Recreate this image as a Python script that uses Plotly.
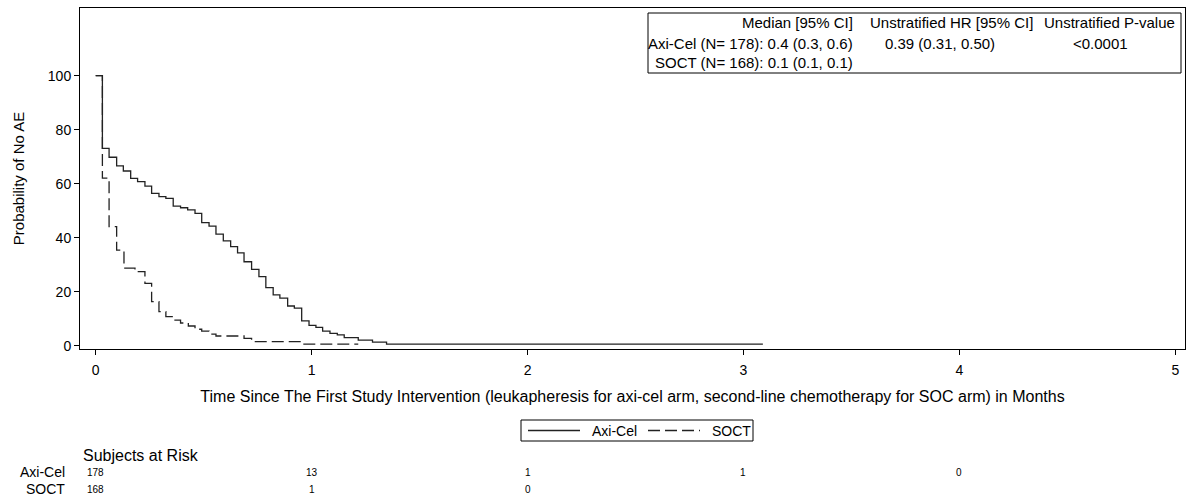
import plotly.graph_objects as go

# ---------------- data ----------------
axi_time = [0, 0.031, 0.062, 0.097, 0.128, 0.162, 0.194, 0.228, 0.259, 0.293, 0.325,
            0.359, 0.393, 0.426, 0.460, 0.491, 0.525, 0.557, 0.591, 0.625, 0.657,
            0.687, 0.722, 0.756, 0.788, 0.822, 0.853, 0.889, 0.920, 0.954, 0.988,
            1.020, 1.051, 1.085, 1.119, 1.151, 1.216, 1.282, 1.347, 3.09]
axi_surv = [100, 73.1, 69.8, 66.6, 64.7, 62.0, 60.8, 59.1, 56.4, 55.2, 54.6,
            51.7, 51.1, 50.3, 49.0, 45.6, 44.3, 41.3, 38.8, 36.7, 34.4,
            31.1, 28.3, 25.6, 21.5, 18.8, 17.6, 14.7, 13.9, 9.2, 7.5,
            6.8, 5.4, 4.6, 4.0, 3.0, 2.1, 1.3, 0.6, 0.6]

soc_time = [0, 0.031, 0.062, 0.097, 0.131, 0.182, 0.228, 0.259, 0.293, 0.325,
            0.359, 0.393, 0.429, 0.460, 0.491, 0.525, 0.557, 0.687, 0.722, 0.954, 1.216]
soc_surv = [100, 62.1, 44.1, 35.4, 28.7, 27.4, 23.1, 16.3, 12.6, 10.8,
            9.5, 8.4, 7.3, 6.1, 5.4, 4.3, 3.6, 2.7, 1.5, 0.6, 0.6]

series_names = ["Axi-Cel", "SOCT"]
x_ticks = [0, 1, 2, 3, 4, 5]
y_ticks = [0, 20, 40, 60, 80, 100]

stats_header = ["Median [95% CI]", "Unstratified HR [95% CI]", "Unstratified P-value"]
stats_axi = ["Axi-Cel (N= 178): 0.4 (0.3, 0.6)", "0.39 (0.31, 0.50)", "<0.0001"]
stats_soc = ["SOCT (N= 168): 0.1 (0.1, 0.1)", "", ""]

risk_title = "Subjects at Risk"
risk_times = [0, 1, 2, 3, 4]
risk_axi = [178, 13, 1, 1, 0]
risk_soc = [168, 1, 0]

x_title = ("Time Since The First Study Intervention (leukapheresis for axi-cel arm, "
           "second-line chemotherapy for SOC arm) in Months")
y_title = "Probability of No AE"

# ---------------- layout helpers ----------------
W, H = 1189, 500
ML, MR, MT, MB = 80, 4, 8, 151
PW, PH = W - ML - MR, H - MT - MB


def px(xp):
    return (xp - ML) / PW


def py(yp):
    return (H - MB - yp) / PH


FONT = "Arial, Liberation Sans, sans-serif"
LINE_COL = "#222222"
DASH = "12px,5px"

fig = go.Figure()
fig.add_trace(go.Scatter(x=axi_time, y=axi_surv, mode="lines", name=series_names[0],
                         line=dict(shape="hv", color=LINE_COL, width=1.3)))
fig.add_trace(go.Scatter(x=soc_time, y=soc_surv, mode="lines", name=series_names[1],
                         line=dict(shape="hv", color=LINE_COL, width=1.3, dash=DASH)))

axis_common = dict(showline=True, linecolor="black", linewidth=1, mirror=True,
                   ticks="outside", ticklen=5, tickcolor="black", tickwidth=1,
                   showgrid=False, zeroline=False,
                   tickfont=dict(family=FONT, size=14, color="black"))

fig.update_xaxes(range=[-0.0727, 5.045], tickvals=x_ticks, ticklabelstandoff=3,
                 title=dict(text=x_title, font=dict(family=FONT, size=16, color="black"), standoff=14),
                 **axis_common)
fig.update_yaxes(range=[-1.22, 125.07], tickvals=y_ticks,
                 title=dict(text=y_title, font=dict(family=FONT, size=15, color="black"), standoff=19),
                 **axis_common)

annotations = []
shapes = []

# statistics box
shapes.append(dict(type="rect", xref="paper", yref="paper",
                   x0=px(648), x1=px(1181), y0=py(73), y1=py(13),
                   line=dict(color="black", width=1), fillcolor="white", layer="above"))
row_y = [23, 43, 63]
col_specs = [[(855, "right"), (868, "left"), (1177, "right")],
             [(855, "right"), (940, "center"), (1100, "center")],
             [(855, "right"), (940, "center"), (1100, "center")]]
for ri, row in enumerate([stats_header, stats_axi, stats_soc]):
    for ci, txt in enumerate(row):
        if not txt:
            continue
        xpos, anchor = col_specs[ri][ci]
        annotations.append(dict(text=txt, xref="paper", yref="paper",
                                x=px(xpos), y=py(row_y[ri]), xanchor=anchor, yanchor="middle",
                                showarrow=False, font=dict(family=FONT, size=15, color="black")))

# custom legend
LEG_Y = 430.5
shapes.append(dict(type="rect", xref="paper", yref="paper",
                   x0=px(521), x1=px(753), y0=py(441), y1=py(420),
                   line=dict(color="black", width=1), fillcolor="white"))
shapes.append(dict(type="line", xref="paper", yref="paper", x0=px(528), x1=px(580),
                   y0=py(LEG_Y), y1=py(LEG_Y), line=dict(color=LINE_COL, width=1.3)))
shapes.append(dict(type="line", xref="paper", yref="paper", x0=px(648), x1=px(700),
                   y0=py(LEG_Y), y1=py(LEG_Y), line=dict(color=LINE_COL, width=1.3, dash=DASH)))
for name, xpos in zip(series_names, [590, 710]):
    annotations.append(dict(text=name, xref="paper", yref="paper", x=px(xpos), y=py(LEG_Y),
                            xanchor="left", yanchor="middle", showarrow=False,
                            font=dict(family=FONT, size=14, color="black")))

# at-risk table
annotations.append(dict(text=risk_title, xref="paper", yref="paper", x=px(81), y=py(455),
                        xanchor="left", yanchor="middle", showarrow=False,
                        font=dict(family=FONT, size=16, color="black")))
for name, counts, ypos in [(series_names[0], risk_axi, 472), (series_names[1], risk_soc, 489)]:
    annotations.append(dict(text=name, xref="paper", yref="paper", x=px(67), y=py(ypos),
                            xanchor="right", yanchor="middle", showarrow=False,
                            font=dict(family=FONT, size=14, color="black")))
    for t, c in zip(risk_times, counts):
        annotations.append(dict(text=str(c), xref="x", yref="paper", x=t,
                                y=py(ypos), xanchor="center", yanchor="middle", showarrow=False,
                                font=dict(family=FONT, size=10, color="black")))

fig.update_layout(
    width=W, height=H,
    margin=dict(l=ML, r=MR, t=MT, b=MB, autoexpand=False),
    paper_bgcolor="white", plot_bgcolor="white",
    font=dict(family=FONT, size=12, color="black"),
    showlegend=False,
    annotations=annotations,
    shapes=shapes,
)

fig.write_html("out.html")
